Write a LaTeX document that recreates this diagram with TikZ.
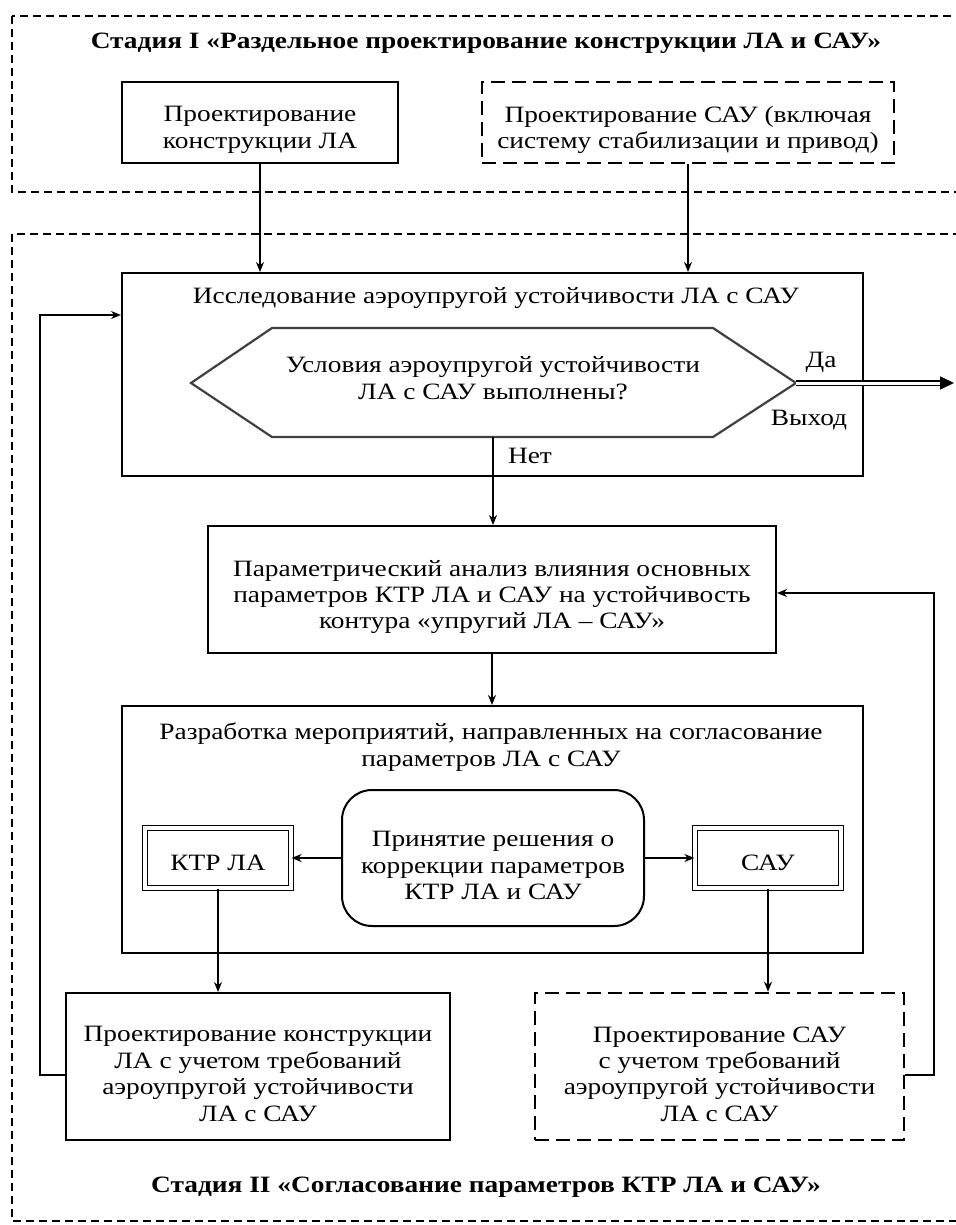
\documentclass[tikz,border=0pt]{standalone}
\usepackage{fontspec}
\setmainfont{Liberation Serif}[FakeStretch=1.17]
\usetikzlibrary{arrows.meta,fit}
\newcommand{\dfont}{\fontsize{11.7}{13.2}\selectfont}
\begin{document}
\begin{tikzpicture}[x=0.5pt,y=-0.5pt,
  every node/.style={font=\dfont, align=center},
  tb/.style={draw=black, line width=1pt, inner sep=0pt},
  dbox/.style={draw=black, line width=1.3pt, dash pattern=on 7pt off 3.5pt, inner sep=0pt},
  dbl/.style={draw=black, double, line width=0.6pt, double distance=1.6pt, inner sep=0pt},
  stage/.style={draw=black, line width=0.8pt, dash pattern=on 4pt off 2.5pt},
  arr/.style={-{Stealth[length=5pt,width=4pt]}, line width=0.85pt},
  inner/.style={yshift=-3.75pt},
  title/.style={font=\dfont\bfseries}]
\useasboundingbox (0,0) rectangle (956,1225);
\clip (0,0) rectangle (956,1225);
% stages
\draw[stage] (12,16) rectangle (975,192);
\draw[stage] (12,234) rectangle (975,1221);
\node[title] (s1) at (486,43) {Стадия I «Раздельное проектирование конструкции ЛА и САУ»};
\node[title] (s2) at (486,1187) {Стадия II «Согласование параметров КТР ЛА и САУ»};
% stage I boxes
\node[tb, fit={(122,82)(398,163)}] (p1) {};
\node[inner] (p1t) at (p1) {Проектирование\\конструкции ЛА};
\node[dbox, fit={(482,82)(894,163)}] (p2) {};
\node[inner] (p2t) at (p2) {Проектирование САУ (включая\\систему стабилизации и привод)};
% research box
\node[tb, fit={(122,273)(863,476)}] (ia) {};
\node (iat) at (496,298) {Исследование аэроупругой устойчивости ЛА с САУ};
\coordinate (hl) at (191,383);
\coordinate (hr) at (796,383);
\coordinate (hb) at (493,437);
\draw[draw=black!75, line width=1.1pt] (hl) -- (272,328) -- (713,328) -- (hr) -- (713,437) -- (272,437) -- cycle;
\node (hex) at (493,378) {Условия аэроупругой устойчивости\\ЛА с САУ выполнены?};
\node (da) at (821,362) {Да};
\node (vy) at (809,420) {Выход};
\node (net) at (530,456) {Нет};
\draw[double, line width=0.75pt, double distance=1.5pt, -{Triangle[length=7pt,width=6.5pt]}] (hr) -- (954,383);
% parametric analysis
\node[tb, fit={(208,526)(776,653)}] (pa) {};
\node[inner] (pat) at (pa) {Параметрический анализ влияния основных\\параметров КТР ЛА и САУ на устойчивость\\контура «упругий ЛА – САУ»};
% development box
\node[tb, fit={(122,706)(863,953)}] (rz) {};
\node (rzt) at (491,747) {Разработка мероприятий, направленных на согласование\\параметров ЛА с САУ};
\node[tb, rounded corners=15pt, fit={(342,790)(644,926)}] (pr) {};
\node[inner] (prt) at (pr) {Принятие решения о\\коррекции параметров\\КТР ЛА и САУ};
\node[dbl, fit={(145,828)(291,888)}] (k) {};
\node[yshift=-2.5pt] (kt) at (k) {КТР ЛА};
\node[dbl, fit={(695,828)(841,888)}] (s) {};
\node[yshift=-2.5pt] (st) at (s) {САУ};
% lower boxes
\node[tb, fit={(66,993)(450,1140)}] (lk) {};
\node[inner] (lkt) at (lk) {Проектирование конструкции\\ЛА с учетом требований\\аэроупругой устойчивости\\ЛА с САУ};
\node[dbox, fit={(535,993)(904,1140)}] (ls) {};
\node[inner] (lst) at (ls) {Проектирование САУ\\с учетом требований\\аэроупругой устойчивости\\ЛА с САУ};
% connectors
\draw[arr] (p1.south) -- (p1.south |- ia.north);
\draw[arr] (p2.south) -- (p2.south |- ia.north);
\draw[arr] (hb) -- (hb |- pa.north);
\draw[arr] (pa.south) -- (pa.south |- rz.north);
\draw[arr] (pr.west) -- (k.east);
\draw[arr] (pr.east) -- (s.west);
\draw[arr] (k.south) -- (k.south |- lk.north);
\draw[arr] (s.south) -- (s.south |- ls.north);
\draw[arr] (lk.west |- 0,1075) -- (40,1075) -- (40,315) -- (ia.west |- 0,315);
\draw[arr] (ls.east |- 0,1075) -- (934,1075) -- (934,593) -- (pa.east |- 0,593);
\end{tikzpicture}
\end{document}
